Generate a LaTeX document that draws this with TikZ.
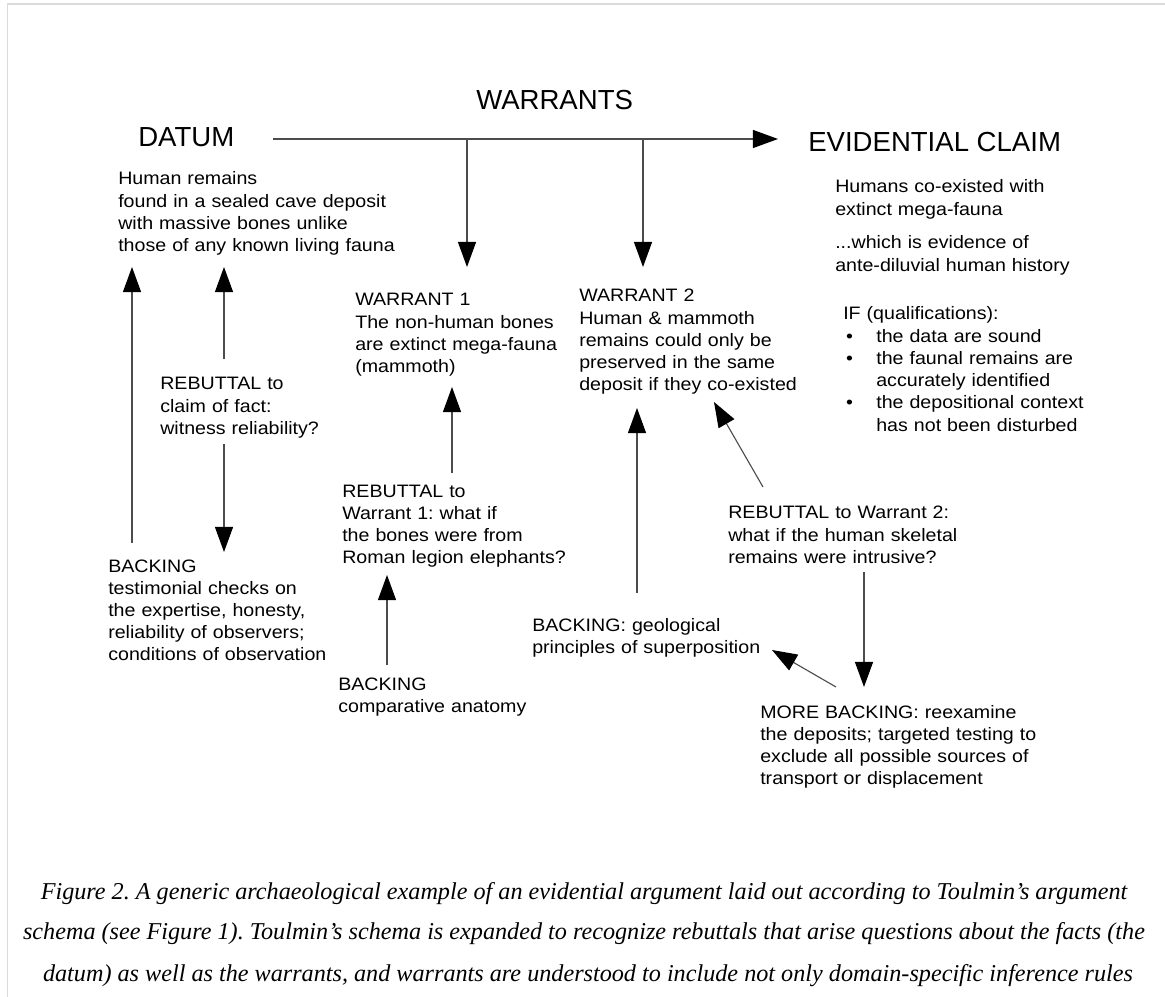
\documentclass[tikz,border=0pt]{standalone}
\usepackage{fontspec}
\setmainfont{Liberation Sans}
\newfontfamily\bodyfont[FakeStretch=1.09]{Liberation Sans}
\newfontfamily\capfont{Liberation Serif}
\usetikzlibrary{arrows.meta}
\frenchspacing

\tikzset{
  head/.style={anchor=base west, inner sep=0pt, font=\fontsize{19.6}{23}\selectfont},
  txt/.style={anchor=base west, inner sep=0pt, align=left, text width=300pt,
    font=\bodyfont\fontsize{12.8}{15.8}\selectfont},
  link/.style={draw=black!70, line width=0.8pt,
    -{Triangle[length=17.8pt, width=12.8pt, color=black]}},
  capline/.style={anchor=base, inner sep=0pt,
    font=\capfont\itshape\fontsize{17.2}{20}\selectfont},
}

\begin{document}
\begin{tikzpicture}[x=0.025cm, y=-0.025cm]
	%%%%% FRAME %%%%%
	\useasboundingbox (0,0) rectangle (1165,997);
	\draw[black!14, line width=1.4pt] (7.5,997) -- (7.5,4) -- (1165,4);
	
	%%%%% HEADINGS %%%%%
	\node[head] (warrants) at (476,110) {WARRANTS};
	\node[head] (datum) at (138,147) {DATUM};
	\node[head] (claim) at (808,152) {EVIDENTIAL CLAIM};
	
	%%%%% TEXT BLOCKS %%%%%
	\node[txt] (datumtxt) at (118,185) {Human remains\\ found in a sealed cave deposit\\ with massive bones unlike\\ those of any known living fauna};
	\node[txt] (claimtxt) at (835,193) {Humans co-existed with\\ extinct mega-fauna};
	\node[txt] (historytxt) at (835,249) {...which is evidence of\\ ante-diluvial human history};
	\node[txt] (qualif) at (843,320) {IF (qualifications):\\
		\makebox[23.5pt][l]{\hspace{2pt}\textbullet}the data are sound\\
		\makebox[23.5pt][l]{\hspace{2pt}\textbullet}the faunal remains are\\
		\hspace*{23.5pt}accurately identified\\
		\makebox[23.5pt][l]{\hspace{2pt}\textbullet}the depositional context\\
		\hspace*{23.5pt}has not been disturbed};
	
	\node[txt] (warrantA) at (355,306) {WARRANT 1\\ The non-human bones\\ are extinct mega-fauna\\ (mammoth)};
	\node[txt] (warrantB) at (579,302) {WARRANT 2\\ Human \& mammoth\\ remains could only be\\ preserved in the same\\ deposit if they co-existed};
	
	\node[txt] (rebfact) at (160,390) {REBUTTAL to\\ claim of fact:\\ witness reliability?};
	\node[txt] (backfact) at (108,572) {BACKING\\ testimonial checks on\\ the expertise, honesty,\\ reliability of observers;\\ conditions of observation};
	
	\node[txt] (rebA) at (342,497) {REBUTTAL to\\ Warrant 1: what if\\ the bones were from\\ Roman legion elephants?};
	\node[txt] (backA) at (338,690) {BACKING\\ comparative anatomy};
	
	\node[txt] (rebB) at (728,519) {REBUTTAL to Warrant 2:\\ what if the human skeletal\\ remains were intrusive?};
	\node[txt] (backB) at (532,631) {BACKING: geological\\ principles of superposition};
	\node[txt] (moreback) at (760,718) {MORE BACKING: reexamine\\ the deposits; targeted testing to\\ exclude all possible sources of\\ transport or displacement};
	
	%%%%% ARROW ENDS %%%%%
	\coordinate (mainL) at (273,139);
	\coordinate (mainR) at (778,139);
	\coordinate (forkA) at (467,139);
	\coordinate (forkB) at (643,139);
	\coordinate (warrantAin) at (467,267);
	\coordinate (warrantBin) at (643,267);
	\coordinate (datumL) at (132,267);
	\coordinate (datumR) at (224,267);
	\coordinate (backfactout) at (132,543);
	\coordinate (rebfactup) at (224,359);
	\coordinate (rebfactdown) at (224,444);
	\coordinate (backfactin) at (224,552);
	\coordinate (warrantAup) at (452,387);
	\coordinate (rebAout) at (452,473);
	\coordinate (rebAin) at (387,575);
	\coordinate (backAout) at (387,665);
	\coordinate (warrantBup) at (637,408);
	\coordinate (backBout) at (637,593);
	\coordinate (warrantBcorner) at (714,402);
	\coordinate (rebBout) at (763,487);
	\coordinate (rebBdown) at (864,572);
	\coordinate (morebackin) at (864,687);
	\coordinate (morebackout) at (836,687);
	\coordinate (backBin) at (772,650);
	
	%%%%% ARROWS %%%%%
	\draw[link] (mainL) -- (mainR);
	\draw[link] (forkA) -- (warrantAin);
	\draw[link] (forkB) -- (warrantBin);
	
	\draw[link] (backfactout) -- (datumL);
	\draw[link] (rebfactup) -- (datumR);
	\draw[link] (rebfactdown) -- (backfactin);
	
	\draw[link] (rebAout) -- (warrantAup);
	\draw[link] (backAout) -- (rebAin);
	
	\draw[link] (backBout) -- (warrantBup);
	\draw[link] (rebBout) -- (warrantBcorner);
	\draw[link] (rebBdown) -- (morebackin);
	\draw[link] (morebackout) -- (backBin);
	
	%%%%% CAPTION %%%%%
	\node[capline] (capA) at (584,899) {Figure 2. A generic archaeological example of an evidential argument laid out according to Toulmin’s argument};
	\node[capline] (capB) at (584,939) {schema (see Figure 1). Toulmin’s schema is expanded to recognize rebuttals that arise questions about the facts (the};
	\node[capline] (capC) at (588,981) {datum) as well as the warrants, and warrants are understood to include not only domain-specific inference rules};
\end{tikzpicture}
\end{document}
